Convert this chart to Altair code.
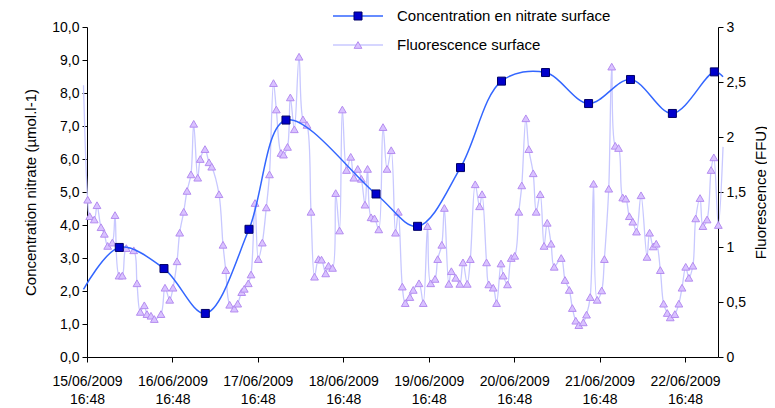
import json
import altair as alt
import pandas as pd

# ---------------- data ----------------
tick_dates = ["15/06/2009", "16/06/2009", "17/06/2009", "18/06/2009",
              "19/06/2009", "20/06/2009", "21/06/2009", "22/06/2009"]
tick_time = "16:48"
tick_days = [0, 1, 2, 3, 4, 5, 6, 7]
series_names = ["Concentration en nitrate surface", "Fluorescence surface"]

# days since 15/06/2009 16:48
nitrate_days = [0.378, 0.901, 1.385, 1.896, 2.329, 3.383, 3.869, 4.372,
                4.852, 5.367, 5.871, 6.362, 6.852, 7.343]
nitrate_vals = [3.32, 2.68, 1.32, 3.87, 7.18, 4.94, 3.96, 5.74,
                8.36, 8.62, 7.68, 8.41, 7.38, 8.64]
nitrate_edge_days = [-0.041, 7.445]
nitrate_edge_vals = [2.05, 8.49]

fluo_days = [0.008, 0.032, 0.085, 0.117, 0.164, 0.203, 0.242, 0.296, 0.328, 0.375,
             0.413, 0.460, 0.547, 0.585, 0.624, 0.671, 0.702, 0.749, 0.788, 0.866,
             0.913, 0.968, 1.007, 1.054, 1.085, 1.132, 1.171, 1.217, 1.249, 1.296,
             1.326, 1.381, 1.428, 1.460, 1.545, 1.592, 1.624, 1.670, 1.724, 1.764,
             1.811, 1.841, 1.888, 1.920, 1.967, 2.005, 2.052, 2.099, 2.136, 2.183,
             2.216, 2.271, 2.300, 2.347, 2.380, 2.427, 2.482, 2.528, 2.575, 2.622,
             2.663, 2.710, 2.745, 2.794, 2.827, 2.874, 2.911, 2.956, 2.989, 3.038,
             3.087, 3.123, 3.169, 3.211, 3.254, 3.284, 3.325, 3.365, 3.415, 3.465,
             3.512, 3.561, 3.611, 3.644, 3.691, 3.725, 3.779, 3.819, 3.886, 3.936,
             3.986, 4.023, 4.074, 4.105, 4.153, 4.183, 4.235, 4.265, 4.316, 4.364,
             4.401, 4.451, 4.487, 4.544, 4.595, 4.624, 4.677, 4.703, 4.755, 4.794,
             4.846, 4.872, 4.922, 4.966, 5.007, 5.055, 5.089, 5.137, 5.171, 5.223,
             5.258, 5.305, 5.350, 5.387, 5.432, 5.469, 5.551, 5.595, 5.645, 5.681,
             5.721, 5.757, 5.809, 5.847, 5.890, 5.929, 5.972, 6.025, 6.056, 6.107,
             6.142, 6.183, 6.222, 6.271, 6.306, 6.348, 6.389, 6.432, 6.485, 6.555,
             6.585, 6.628, 6.663, 6.711, 6.749, 6.792, 6.827, 6.881, 6.928, 6.965,
             7.008, 7.045, 7.092, 7.125, 7.176, 7.209, 7.258, 7.305, 7.337, 7.390]
fluo_vals = [1.43, 1.28, 1.25, 1.38, 1.18, 1.12, 1.01, 1.04, 1.29, 0.74,
             0.74, 0.99, 0.97, 0.67, 0.41, 0.47, 0.39, 0.375, 0.345, 0.39,
             0.63, 0.52, 0.63, 0.87, 1.13, 1.32, 1.51, 1.66, 2.12, 1.63,
             1.80, 1.89, 1.77, 1.73, 1.48, 1.02, 0.79, 0.475, 0.44, 0.485,
             0.59, 0.62, 0.67, 0.75, 1.40, 0.89, 1.04, 1.36, 1.66, 2.49,
             2.25, 1.855, 1.84, 1.91, 2.36, 2.07, 2.73, 2.16, 2.11, 1.32,
             0.73, 0.89, 0.885, 0.76, 0.83, 0.81, 1.49, 1.15, 2.25, 1.70,
             1.82, 1.63, 1.71, 1.62, 1.385, 1.71, 1.27, 1.26, 1.16, 2.09,
             1.71, 1.88, 1.13, 1.32, 0.64, 0.49, 0.545, 0.61, 0.67, 0.49,
             1.19, 0.67, 0.71, 0.89, 1.02, 1.355, 0.665, 0.78, 0.72, 0.665,
             0.86, 0.665, 0.89, 1.57, 1.37, 1.48, 0.86, 0.66, 0.63, 0.49,
             0.85, 0.74, 0.66, 0.90, 0.92, 1.32, 1.56, 2.17, 1.89, 1.67,
             1.32, 1.48, 1.01, 1.22, 1.03, 0.82, 0.90, 0.70, 0.61, 0.445,
             0.33, 0.29, 0.315, 0.385, 0.545, 1.575, 0.52, 0.605, 0.89, 1.53,
             2.64, 1.92, 1.90, 1.45, 1.44, 1.28, 1.23, 1.14, 1.47, 0.91,
             1.13, 1.005, 1.03, 0.79, 0.485, 0.40, 0.36, 0.39, 0.485, 0.63,
             0.82, 0.72, 0.83, 1.26, 1.445, 1.19, 1.25, 1.70, 1.815, 1.20]
fluo_edge_days = [-0.041, 7.445]
fluo_edge_vals = [2.47, 1.91]

# ---------------- styles ----------------
FONT = "Liberation Sans"
NITRATE_LINE = "#3366ff"
NITRATE_FILL = "#0000cc"
NITRATE_EDGE = "#000066"
FLUO_LINE = "#c8c8ff"
FLUO_FILL = "#d9c2ff"
FLUO_EDGE = "#b48cf0"

nit_pts = pd.DataFrame({"day": nitrate_days, "val": nitrate_vals})
nit_line = pd.DataFrame({
    "day": [nitrate_edge_days[0]] + nitrate_days + [nitrate_edge_days[1]],
    "val": [nitrate_edge_vals[0]] + nitrate_vals + [nitrate_edge_vals[1]],
})
flu_pts = pd.DataFrame({"day": fluo_days, "val": fluo_vals})
flu_line = pd.DataFrame({
    "day": [fluo_edge_days[0]] + fluo_days + [fluo_edge_days[1]],
    "val": [fluo_edge_vals[0]] + fluo_vals + [fluo_edge_vals[1]],
})

x_label_expr = "[" + json.dumps(tick_dates)[1:-1] + "][datum.value]"
x_label_expr = "[" + x_label_expr.replace('"', "'") + ", '" + tick_time + "']"

x_scale = alt.Scale(domain=[0, 7.386], nice=False, zero=False)
x_axis = alt.Axis(values=tick_days, labelExpr=x_label_expr, title=None,
                  grid=False, tickSize=5, labelPadding=12, labelLineHeight=18,
                  labelFontSize=14, labelFont=FONT, labelColor="black",
                  domainColor="black", tickColor="black", labelBaseline="top",
                  labelOverlap=False, labelFlush=False, labelBound=False)
X = alt.X("day:Q", scale=x_scale, axis=x_axis)

left_axis = alt.Axis(orient="left", values=list(range(0, 11)),
                     labelExpr="replace(format(datum.value, '.1f'), '.', ',')",
                     title="Concentration nitrate (µmol.l-1)", titleFontSize=15,
                     titleFont=FONT, titleFontWeight="normal", titleColor="black",
                     titleX=-57, titleY=165, titleAngle=270, titleAlign="center",
                     titleBaseline="middle",
                     grid=False, tickSize=5, labelFontSize=14,
                     labelFont=FONT, labelColor="black", domainColor="black",
                     tickColor="black", labelPadding=3, labelOverlap=False,
                     labelFlush=False)
right_axis = alt.Axis(orient="right", values=[0, 0.5, 1, 1.5, 2, 2.5, 3],
                      labelExpr="replace(format(datum.value, '.1~f'), '.', ',')",
                      title="Fluorescence (FFU)", titleFontSize=15, titleFont=FONT,
                      titleFontWeight="normal", titleColor="black",
                      titleX=42, titleY=165, titleAngle=270, titleAlign="center",
                      titleBaseline="middle",
                      grid=False, tickSize=5, labelFontSize=14, labelFont=FONT,
                      labelColor="black", domainColor="black", tickColor="black",
                      labelPadding=3, labelOverlap=False, labelFlush=False)

Yn = alt.Y("val:Q", scale=alt.Scale(domain=[0, 10], nice=False), axis=left_axis)
Yf = alt.Y("val:Q", scale=alt.Scale(domain=[0, 3], nice=False), axis=right_axis)

nit_layer = alt.layer(
    alt.Chart(nit_line).mark_line(interpolate="catmull-rom", color=NITRATE_LINE,
                                  strokeWidth=1.5).encode(x=X, y=Yn),
    alt.Chart(nit_pts).mark_point(shape="square", size=64, filled=True,
                                  fill=NITRATE_FILL, stroke=NITRATE_EDGE,
                                  strokeWidth=1, opacity=1).encode(x=X, y=Yn),
)
flu_layer = alt.layer(
    alt.Chart(flu_line).mark_line(interpolate="catmull-rom", color=FLUO_LINE,
                                  strokeWidth=1.3).encode(x=X, y=Yf),
    alt.Chart(flu_pts).mark_point(shape="triangle-up", size=60, filled=True,
                                  fill=FLUO_FILL, stroke=FLUO_EDGE,
                                  strokeWidth=1, opacity=1).encode(x=X, y=Yf),
)

# ---------------- manual legend ----------------
leg_df = pd.DataFrame({"name": series_names})
one = alt.Chart(pd.DataFrame({"k": [0]}))


def legend_row(i, y, line_color, shape, size, fill, edge):
    rule = one.mark_rule(color=line_color, strokeWidth=1.5).encode(
        x=alt.value(246), x2=alt.value(296), y=alt.value(y))
    pt = one.mark_point(shape=shape, size=size, filled=True, fill=fill,
                        stroke=edge, strokeWidth=1, opacity=1).encode(
        x=alt.value(271), y=alt.value(y))
    txt = alt.Chart(leg_df.iloc[[i]]).mark_text(
        align="left", baseline="middle", font=FONT, fontSize=15,
        color="black").encode(x=alt.value(310), y=alt.value(y), text="name:N")
    return [rule, pt, txt]


legend_layers = (legend_row(0, -11, NITRATE_LINE, "square", 64, NITRATE_FILL, NITRATE_EDGE)
                 + legend_row(1, 18, FLUO_LINE, "triangle-up", 60, FLUO_FILL, FLUO_EDGE))

chart = alt.layer(flu_layer, nit_layer, *legend_layers).resolve_scale(
    y="independent"
).properties(
    width=631, height=330,
    padding={"left": 79, "top": 19, "right": 49, "bottom": 60},
    autosize=alt.AutoSizeParams(type="none"),
    background="white",
).configure_view(stroke="transparent")

chart.save("out.html", embed_options={"renderer": "svg", "actions": False})
